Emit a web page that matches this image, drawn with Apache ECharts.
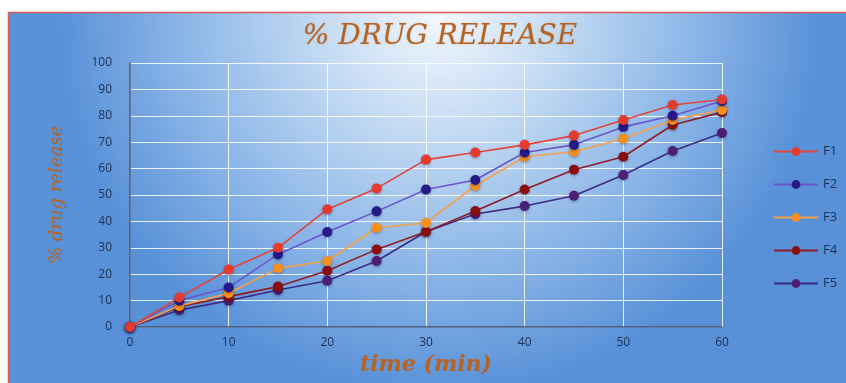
<!DOCTYPE html>
<html>
<head>
<meta charset="utf-8">
<script src="https://cdn.jsdelivr.net/npm/echarts@6/dist/echarts.min.js"></script>
<style>
  html, body { margin: 0; padding: 0; background: #ffffff; }
  #chart { width: 846px; height: 383px; }
</style>
</head>
<body>
<div id="chart"></div>
<script>
// Sampling times (min)
const times = [0, 5, 10, 15, 20, 25, 30, 35, 40, 45, 50, 55, 60];
// Cumulative % drug release per formulation
const F1 = [0, 11.2, 21.8, 30.0, 44.6, 52.5, 63.4, 66.1, 69.0, 72.5, 78.4, 84.1, 86.2];
const F2 = [0, 10.0, 15.0, 27.5, 36.0, 43.8, 52.1, 55.7, 66.1, 69.0, 75.8, 80.0, 85.6];
const F3 = [0, 8.0, 12.8, 22.3, 25.0, 37.6, 39.4, 53.5, 64.5, 66.4, 71.3, 78.4, 82.2];
const F4 = [0, 7.7, 11.5, 15.3, 21.3, 29.4, 36.1, 43.9, 52.1, 59.6, 64.5, 76.5, 81.4];
const F5 = [0, 6.4, 10.0, 14.0, 17.5, 25.0, 36.1, 42.8, 45.8, 49.7, 57.6, 66.7, 73.5];
const seriesNames = ['F1', 'F2', 'F3', 'F4', 'F5'];
const xTicks = [0, 10, 20, 30, 40, 50, 60];

const seriesData = [F1, F2, F3, F4, F5];
const lineColors = ['#e2443a', '#6a55cf', '#f5a04a', '#8e1c24', '#3d2c86'];
const markerColors = ['#e53a2c', '#241a86', '#f7901e', '#8a1010', '#4c1f74'];

const chart = echarts.init(document.getElementById('chart'));

const series = seriesNames.map((name, i) => ({
  name: name,
  type: 'line',
  data: times.map((t, j) => [t, seriesData[i][j]]),
  symbol: 'circle',
  symbolSize: 10,
  lineStyle: { color: lineColors[i], width: 1.6 },
  itemStyle: {
    color: markerColors[i],
    shadowColor: 'rgba(0,0,40,0.35)',
    shadowBlur: 3,
    shadowOffsetY: 1
  },
  z: 10 - i
}));

const option = {
  animation: false,
  backgroundColor: '#ffffff',
  graphic: [{
    type: 'rect',
    z: -10,
    silent: true,
    shape: { x: 8.5, y: 12.5, width: 860, height: 400 },
    style: {
      fill: {
        type: 'radial', x: 0.5, y: 0.0, r: 0.95,
        colorStops: [
          { offset: 0, color: '#f3f8fe' },
          { offset: 0.3, color: '#c6dcf3' },
          { offset: 0.65, color: '#8fb8e8' },
          { offset: 1, color: '#5891d8' }
        ]
      },
      stroke: '#dc5a55',
      lineWidth: 1.5
    }
  }],
  title: {
    text: '% DRUG RELEASE',
    left: 435,
    top: 18,
    textAlign: 'center',
    textStyle: {
      fontFamily: 'DejaVu Serif',
      fontStyle: 'italic',
      fontWeight: 'normal',
      fontSize: 28,
      color: '#b8621f',
      textShadowColor: 'rgba(120,60,0,0.25)',
      textShadowBlur: 2
    }
  },
  legend: {
    orient: 'vertical',
    left: 768,
    top: 140,
    itemGap: 20,
    itemWidth: 44,
    itemHeight: 11,
    data: seriesNames,
    textStyle: { color: '#1e2f52', fontSize: 13, fontFamily: 'Open Sans' }
  },
  grid: { left: 130, right: 124, top: 63, bottom: 56 },
  xAxis: {
    type: 'value',
    min: 0, max: 60, interval: 10,
    name: 'time (min)',
    nameLocation: 'middle',
    nameGap: 22,
    nameTextStyle: {
      fontFamily: 'DejaVu Serif', fontStyle: 'italic', fontWeight: 'bold',
      fontSize: 22, color: '#b8621f'
    },
    axisLine: { lineStyle: { color: '#3f5478', width: 1.5 } },
    axisTick: { show: false },
    axisLabel: {
      color: '#1e2f52', fontSize: 12, fontFamily: 'Open Sans', margin: 10,
      formatter: v => (xTicks.indexOf(v) >= 0 ? String(v) : '')
    },
    splitLine: { show: true, lineStyle: { color: 'rgba(255,255,255,0.85)', width: 1 } }
  },
  yAxis: {
    type: 'value',
    min: 0, max: 100, interval: 10,
    name: '% drug release',
    nameLocation: 'middle',
    nameGap: 64,
    nameRotate: 90,
    nameTextStyle: {
      fontFamily: 'DejaVu Serif', fontStyle: 'italic',
      fontSize: 18, color: '#b8621f'
    },
    axisLine: { show: true, lineStyle: { color: '#3f5478', width: 1.5 } },
    axisTick: { show: false },
    axisLabel: { color: '#1e2f52', fontSize: 12, fontFamily: 'Open Sans', margin: 18 },
    splitLine: { show: true, lineStyle: { color: 'rgba(255,255,255,0.85)', width: 1 } }
  },
  series: series
};

chart.setOption(option);
</script>
</body>
</html>
